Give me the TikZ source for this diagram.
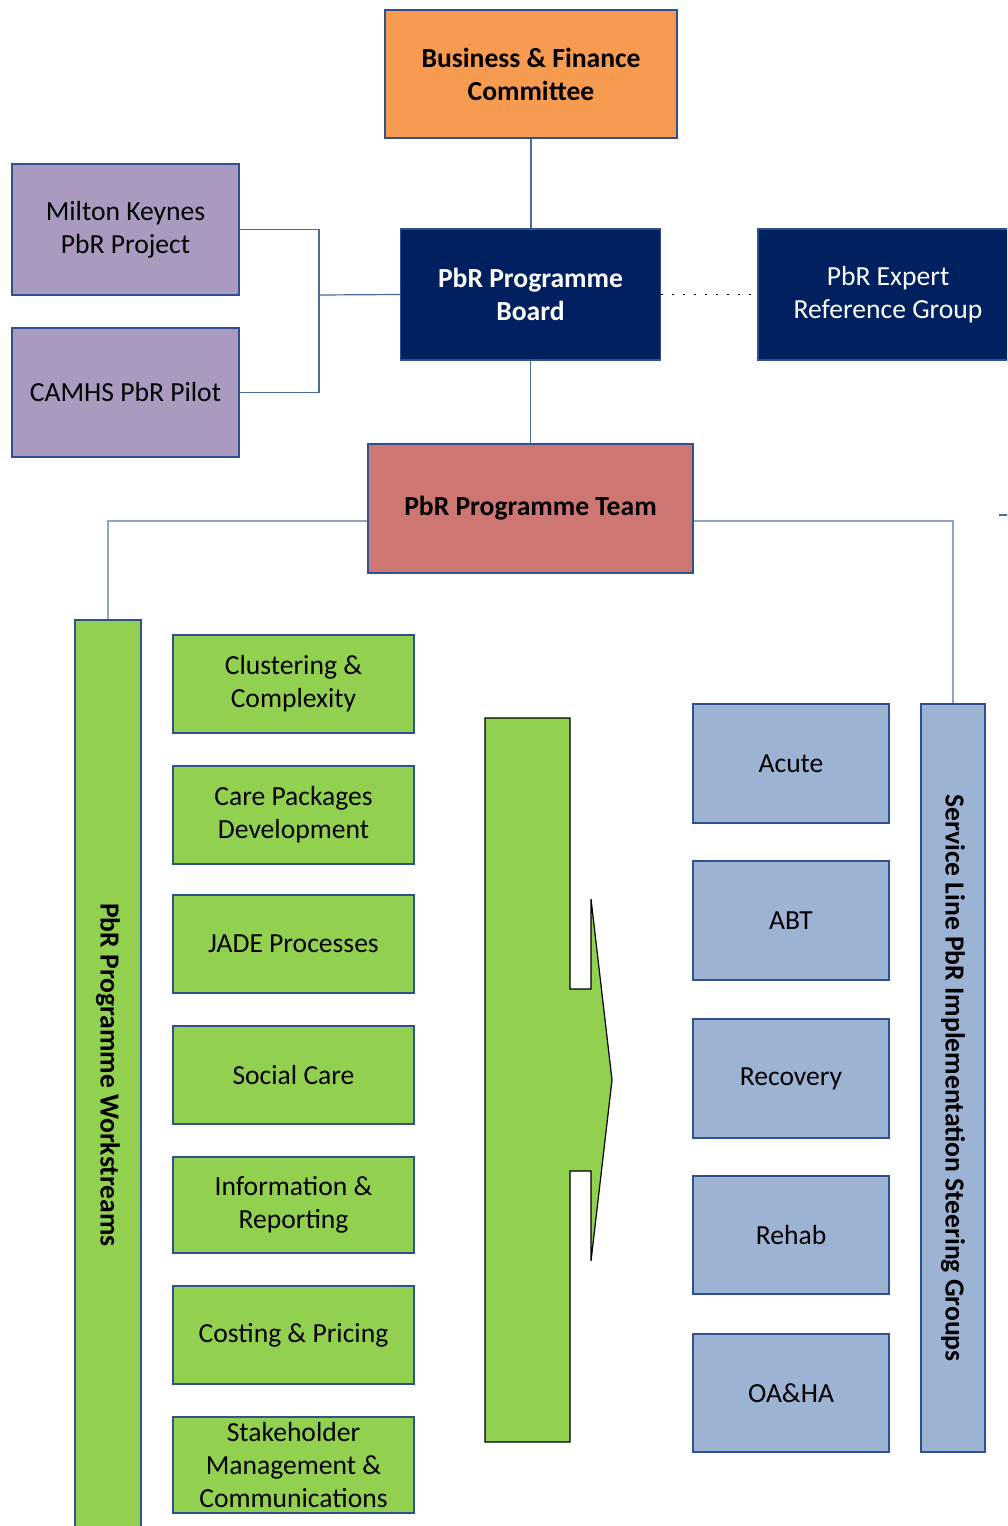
\documentclass[tikz,border=0pt]{standalone}
\usepackage{fontspec}
\setmainfont{Carlito}
\definecolor{edge}{HTML}{2F528F}
\definecolor{wire}{HTML}{4A6C9B}
\definecolor{wirelight}{HTML}{8DA6C6}
\definecolor{orangefill}{HTML}{F79B51}
\definecolor{lilac}{HTML}{AA9AC0}
\definecolor{navy}{HTML}{002060}
\definecolor{rose}{HTML}{CE7672}
\definecolor{leaf}{HTML}{92D050}
\definecolor{sky}{HTML}{9CB3D3}
\begin{document}
\begin{tikzpicture}[x=1pt,y=-1pt,
  box/.style={draw=edge, line width=1.5pt, inner sep=0pt, align=center,
    font=\fontsize{27.6}{33}\selectfont},
  boldbox/.style={box, font=\fontsize{27.6}{33}\selectfont\bfseries},
  sidetext/.style={rotate=-90, inner sep=0pt, font=\fontsize{27.6}{33}\selectfont\bfseries},
  link/.style={draw=wire, line width=1.2pt},
  linklight/.style={draw=wirelight, line width=1.2pt}]
\useasboundingbox (0,0) rectangle (1007,1526);
\clip (0,0) rectangle (1007,1526);

% governance tier
\node[boldbox, fill=orangefill, minimum width=292, minimum height=128] (bfc) at (531,74) {Business \& Finance\\Committee};
\node[box, fill=lilac, minimum width=227, minimum height=131] (mk) at (125.5,229.5) {Milton Keynes\\PbR Project};
\node[box, fill=lilac, minimum width=227, minimum height=129] (cam) at (125.5,392.5) {CAMHS PbR Pilot};
\node[boldbox, fill=navy, text=white, minimum width=260, minimum height=131] (board) at (530.5,294.5) {PbR Programme\\Board};
\node[box, fill=navy, text=white, minimum width=260, minimum height=131] (erg) at (888,294.5) {PbR Expert\\Reference Group};
\node[boldbox, fill=rose, minimum width=325, minimum height=129] (team) at (530.5,508.5) {PbR Programme Team};

% workstreams column
\node[box, fill=leaf, minimum width=66, minimum height=910] (wsbar) at (108,1075) {};
\node[sidetext] (wstext) at (wsbar.center) {PbR Programme Workstreams};
\node[box, fill=leaf, minimum width=241, minimum height=98] (ws1) at (293.5,684) {Clustering \&\\Complexity};
\node[box, fill=leaf, minimum width=241, minimum height=98] (ws2) at (293.5,815) {Care Packages\\Development};
\node[box, fill=leaf, minimum width=241, minimum height=98] (ws3) at (293.5,944) {JADE Processes};
\node[box, fill=leaf, minimum width=241, minimum height=98] (ws4) at (293.5,1075) {Social Care};
\node[box, fill=leaf, minimum width=241, minimum height=96] (ws5) at (293.5,1205) {Information \&\\Reporting};
\node[box, fill=leaf, minimum width=241, minimum height=98] (ws6) at (293.5,1335) {Costing \& Pricing};
\node[box, fill=leaf, minimum width=241, minimum height=96] (ws7) at (293.5,1465) {Stakeholder\\Management \&\\Communications};

% hand-over arrow
\draw[fill=leaf, draw=black, line width=1.2pt, line join=miter]
  (485,718) -- (570,718) -- (570,989) -- (591,989) -- (591,899) -- (612,1080)
  -- (591,1261) -- (591,1171) -- (570,1171) -- (570,1442) -- (485,1442) -- cycle;

% service line column
\node[box, fill=sky, minimum width=196, minimum height=119] (acute) at (791,763.5) {Acute};
\node[box, fill=sky, minimum width=196, minimum height=119] (abt) at (791,920.5) {ABT};
\node[box, fill=sky, minimum width=196, minimum height=119] (rec) at (791,1078.5) {Recovery};
\node[box, fill=sky, minimum width=196, minimum height=118] (rehab) at (791,1235) {Rehab};
\node[box, fill=sky, minimum width=196, minimum height=118] (oaha) at (791,1393) {OA\&HA};
\node[box, fill=sky, minimum width=64, minimum height=748] (slbar) at (953,1078) {};
\node[sidetext] (sltext) at (slbar.center) {Service Line PbR Implementation Steering Groups};

% connectors
\draw[link] (bfc.south) -- (bfc.south |- board.north);
\draw[link] (board.south) -- (board.south |- team.north);
\coordinate (jn) at (319,295);
\draw[link] (mk.east) -| (jn) |- (cam.east);
\draw[link] (jn) -- (board.west);
\draw[black, line width=1.6pt, dash pattern=on 1.5pt off 9.5pt] (board.east) -- (erg.west);
\draw[linklight] ([yshift=-12.5pt]team.west) -| (wsbar.north);
\draw[linklight] ([yshift=-12.5pt]team.east) -| (slbar.north);
\coordinate (stub) at (999,515);
\draw[link] (stub) -- ++(12,0);
\end{tikzpicture}
\end{document}
